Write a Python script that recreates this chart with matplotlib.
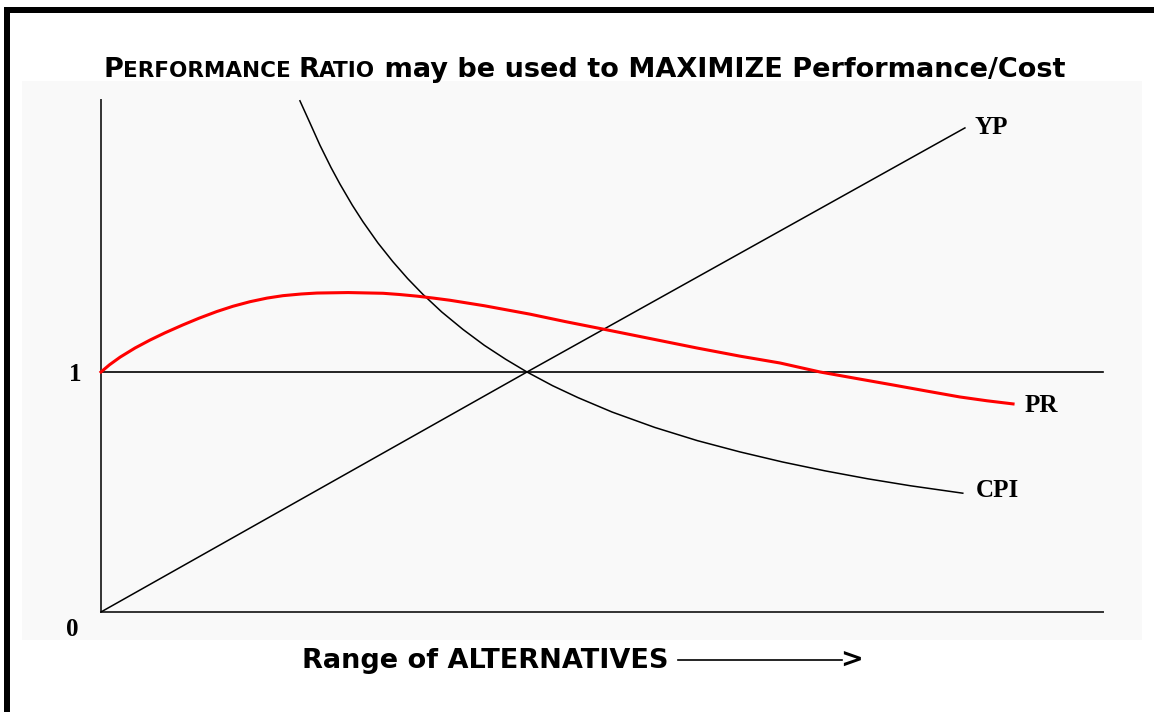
import matplotlib
matplotlib.use("Agg")
import matplotlib.pyplot as plt
from matplotlib.patches import Rectangle
from matplotlib.lines import Line2D

# values (x: range of alternatives, y: ratio)
yp_x = [0.0, 1.0, 2.028]
yp_y = [0.0, 1.0, 2.017]

cpi_x = [0.467, 0.49, 0.514, 0.54, 0.561, 0.59, 0.615, 0.65, 0.685, 0.72, 0.756,
         0.80, 0.85, 0.90, 0.95, 1.0, 1.06, 1.12, 1.2, 1.3, 1.4, 1.5, 1.6,
         1.7, 1.8, 1.9, 2.023]
cpi_y = [2.13, 2.04, 1.945, 1.852, 1.783, 1.695, 1.626, 1.538, 1.46, 1.389, 1.323,
         1.25, 1.177, 1.111, 1.053, 1.0, 0.943, 0.893, 0.833, 0.769, 0.714, 0.667, 0.625,
         0.588, 0.555, 0.526, 0.495]

pr_x = [0.0, 0.02, 0.045, 0.08, 0.115, 0.15, 0.192, 0.23, 0.272, 0.31, 0.35,
        0.39, 0.427, 0.47, 0.507, 0.58, 0.662, 0.70, 0.742, 0.78, 0.819, 0.90,
        1.007, 1.09, 1.178, 1.29, 1.399, 1.50, 1.594, 1.688, 1.77, 1.859,
        1.94, 2.016, 2.08, 2.141]
pr_y = [1.0, 1.03, 1.062, 1.100, 1.133, 1.163, 1.196, 1.224, 1.252, 1.274, 1.293,
        1.308, 1.318, 1.325, 1.329, 1.331, 1.328, 1.323, 1.316, 1.308, 1.299, 1.276,
        1.241, 1.210, 1.179, 1.139, 1.100, 1.066, 1.0375, 1.0, 0.974, 0.946,
        0.92, 0.896, 0.88, 0.867]

labels = ["YP", "CPI", "PR"]
tick_labels = ["0", "1"]

W, H = 1154, 712
fig = plt.figure(figsize=(W / 100, H / 100), dpi=100)
fig.patch.set_facecolor("white")

ax = fig.add_axes([22 / W, 1 - 640 / H, 1120 / W, 559 / H])
ax.set_facecolor("#f9f9f9")
for s in ax.spines.values():
    s.set_visible(False)
ax.set_xticks([])
ax.set_yticks([])
ax.set_xlim(-0.1854, 2.4437)
ax.set_ylim(-0.1167, 2.2125)

# axes and the level-1 line
ax.plot([0, 0], [0, 2.133], color="#333333", lw=1.4)
ax.plot([0, 2.352], [0, 0], color="#333333", lw=1.4)
ax.plot([0, 2.352], [1, 1], color="black", lw=1.2)

ax.plot(yp_x, yp_y, color="black", lw=1.1)
ax.plot(cpi_x, cpi_y, color="black", lw=1.1)
ax.plot(pr_x, pr_y, color="#ff0000", lw=2.2, solid_joinstyle="round")

lab_font = dict(family="Liberation Serif", weight="bold", fontsize=18, va="center", ha="left")
ax.text(2.050, 2.020, labels[0], **lab_font)
ax.text(2.054, 0.505, labels[1], **lab_font)
ax.text(2.167, 0.860, labels[2], **lab_font)
ax.text(-0.061, 0.99, tick_labels[1], **dict(lab_font, ha="center"))
ax.text(-0.068, -0.072, tick_labels[0], **dict(lab_font, ha="center"))

# title with small caps, built piece by piece
renderer = fig.canvas.get_renderer()
parts = [("P", 19.5), ("ERFORMANCE ", 15.5), ("R", 19.5), ("ATIO", 15.5),
         (" may be used to MAXIMIZE Performance/Cost", 19.5)]
x = 103 / W
for s, size in parts:
    t = fig.text(x, 1 - 77 / H, s, fontsize=size, weight="bold",
                 family="DejaVu Sans", va="baseline", ha="left")
    bb = t.get_window_extent(renderer)
    x += bb.width / W

# x label with arrow
fig.text(302 / W, 1 - 668 / H, "Range of ALTERNATIVES", fontsize=19.5, weight="bold",
         family="DejaVu Sans", va="baseline", ha="left")
fig.add_artist(Line2D([678 / W, 842 / W], [1 - 660 / H, 1 - 660 / H], color="black", lw=1.2))
fig.text(840 / W, 1 - 668 / H, ">", fontsize=19.5, weight="bold",
         family="DejaVu Sans", va="baseline", ha="left")

# frame bars at top and left
fig.add_artist(Rectangle((4 / W, 1 - 13 / H), 1150 / W, 6 / H, transform=fig.transFigure,
                         color="black", lw=0))
fig.add_artist(Rectangle((4 / W, 0), 6 / W, 1 - 7 / H, transform=fig.transFigure,
                         color="black", lw=0))

fig.savefig("out.png", dpi=100)
